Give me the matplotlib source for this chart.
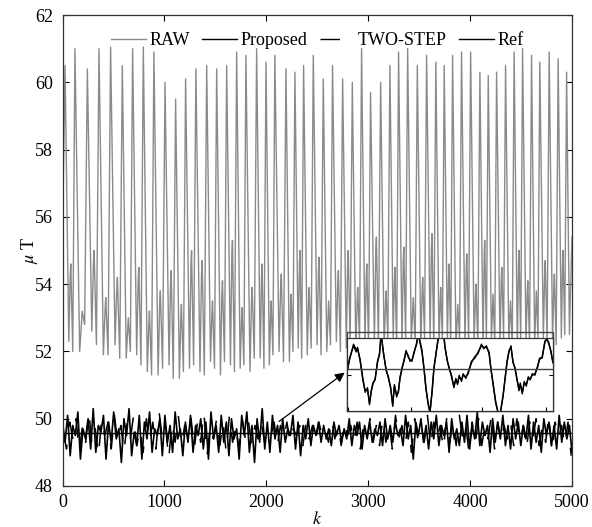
import numpy as np
import matplotlib
matplotlib.use("Agg")
import matplotlib.pyplot as plt
from matplotlib.patches import Rectangle
from matplotlib.lines import Line2D

plt.rcParams['font.family'] = ['Liberation Serif', 'DejaVu Serif']
plt.rcParams['mathtext.fontset'] = 'stix'

# ---------------- data ----------------
# RAW: one cycle = peak, first trough, mid bump, second trough
peak_k = [25, 122, 244, 358, 472, 587, 688, 793, 897, 1006,
          1110, 1208, 1309, 1415, 1513, 1611, 1709, 1800, 1905, 1997,
          2084, 2193, 2281, 2366, 2461, 2559, 2650, 2749, 2844, 2935,
          3023, 3122, 3213, 3298, 3387, 3482, 3573, 3664, 3746, 3828,
          3916, 4005, 4096, 4178, 4260, 4348, 4432, 4515, 4603, 4684,
          4776, 4864, 4947]
peak_val = [60.5, 61.0, 60.4, 61.0, 61.05, 60.5, 61.0, 61.05, 60.9, 60.0,
            59.5, 60.1, 60.4, 60.5, 60.4, 60.5, 60.9, 60.8, 61.0, 60.6,
            60.8, 60.4, 60.3, 60.5, 60.8, 60.1, 60.5, 60.1, 60.0, 61.0,
            59.7, 60.0, 60.5, 60.9, 61.0, 60.5, 60.8, 60.6, 60.5, 60.8,
            60.9, 60.9, 60.3, 60.2, 60.3, 60.5, 60.9, 61.0, 60.8, 60.6,
            60.9, 60.7, 60.3]
trough1_val = [52.3, 52.0, 52.6, 51.9, 52.2, 51.8, 51.9, 51.4, 51.3, 51.6,
               51.2, 51.5, 51.4, 51.7, 51.3, 51.6, 51.5, 51.4, 51.8, 51.6,
               52.0, 51.7, 52.1, 51.9, 52.2, 52.0, 52.3, 52.1, 52.0, 52.2,
               52.3, 52.1, 52.4, 52.2, 52.3, 52.1, 52.4, 52.2, 52.3, 52.1,
               52.2, 52.3, 52.1, 52.4, 52.2, 52.3, 52.1, 52.3, 52.2, 52.4,
               52.3, 52.4, 52.5]
bump_val = [54.6, 53.2, 55.0, 53.6, 54.2, 53.0, 54.5, 53.2, 53.8, 54.4,
            53.4, 55.0, 54.7, 53.5, 54.1, 55.3, 53.3, 53.9, 54.6, 53.5,
            54.3, 53.7, 55.0, 53.9, 54.8, 53.5, 54.4, 55.0, 53.9, 54.6,
            55.4, 53.8, 54.5, 55.1, 53.6, 54.2, 55.5, 53.9, 54.6, 53.4,
            54.9, 54.0, 55.3, 53.7, 54.5, 53.5, 55.0, 54.1, 53.8, 54.7,
            54.3, 55.0, 54.2]
trough2_val = [52.0, 52.8, 52.2, 51.9, 51.8, 52.0, 51.6, 51.3, 51.5, 51.2,
               51.4, 51.6, 51.3, 51.5, 51.7, 51.4, 51.6, 51.8, 51.5, 51.9,
               51.7, 52.0, 51.8, 52.1, 51.9, 52.2, 52.0, 52.2, 52.3, 52.1,
               52.2, 52.4, 52.1, 52.3, 52.2, 52.4, 52.1, 52.3, 52.2, 52.4,
               52.3, 52.1, 52.3, 52.2, 52.4, 52.1, 52.3, 52.2, 52.4, 52.3,
               52.2, 52.5, 52.4]
raw_start = 55.5
raw_end = 55.4

proposed_val = [
    49.9, 49.3, 50.1, 48.9, 49.8, 49.5, 50.2, 48.8, 49.7, 49.4, 50.0, 49.1, 50.3, 49.0, 49.8, 49.6, 50.1, 48.8, 49.9, 49.3,
    50.2, 49.4, 49.7, 48.7, 50.0, 49.5, 50.3, 48.9, 49.6, 49.2, 50.1, 48.8, 49.9, 49.4, 50.2, 49.0, 49.7, 49.5, 50.0, 48.9,
    50.1, 49.3, 49.8, 49.0, 50.2, 49.4, 49.7, 48.9, 49.9, 49.3, 50.1, 49.0, 49.8, 49.5, 50.0, 49.1, 49.9, 48.8, 50.2, 49.4,
    49.8, 49.0, 50.1, 49.3, 49.9, 48.9, 50.0, 49.4, 49.7, 48.8, 50.1, 49.5, 50.2, 49.0, 49.8, 48.7, 50.0, 49.3, 50.3, 49.1,
    49.9, 49.0, 50.1, 49.4, 49.8, 49.0, 50.0, 49.3, 49.7, 49.5, 50.1, 49.1, 49.9, 48.9, 49.8, 49.4, 50.0, 49.2, 49.8, 49.5,
    49.9, 49.3, 49.8, 49.4, 49.7, 49.2, 49.9, 49.5, 49.8, 49.3, 49.7, 49.4, 50.0, 49.2, 49.8, 49.5, 49.9, 49.1, 49.8, 49.4,
    49.9, 49.3, 49.7, 49.5, 49.9, 49.2, 50.0, 49.4, 49.8, 49.3, 49.9, 49.5, 49.7, 49.2, 50.1, 49.4, 49.8, 48.8, 49.9, 49.5,
    50.0, 49.3, 49.8, 49.1, 49.9, 49.4, 50.1, 49.2, 49.8, 49.5, 49.9, 49.0, 50.0, 49.4, 49.7, 49.2, 49.9, 49.3, 50.1, 49.1,
    49.8, 49.4, 50.2, 49.2, 49.9, 49.5, 49.8, 49.0, 50.0, 49.3, 49.9, 49.4, 50.1, 49.2, 49.8, 49.1, 50.0, 49.4, 49.9, 49.2,
    49.8, 49.4, 50.1, 49.1, 49.9, 49.3, 49.8, 49.0, 50.0, 49.5, 49.9, 49.2, 49.8, 49.1, 50.1, 49.3, 49.9, 49.4, 49.8, 49.0,
]
two_step_val = [
    49.6, 49.1, 49.9, 49.4, 50.0, 49.0, 49.8, 49.3, 50.2, 49.2, 49.7, 48.9, 50.0, 49.5, 49.9, 49.1, 50.1, 49.3, 49.8, 49.0,
    49.9, 49.4, 50.1, 49.2, 49.7, 49.0, 50.0, 49.3, 49.9, 49.1, 50.2, 49.4, 49.8, 48.8, 49.9, 49.3, 50.1, 49.2, 49.8, 49.4,
    50.0, 49.1, 49.9, 49.3, 50.2, 48.9, 49.8, 49.4, 50.0, 49.2, 49.9, 49.0, 50.1, 49.3, 49.8, 49.1, 50.0, 49.4, 49.9, 49.2,
    49.8, 49.4, 49.9, 49.3, 49.7, 49.5, 49.9, 49.2, 49.8, 49.4, 49.9, 49.3, 49.7, 49.5, 49.8, 49.2, 49.9, 49.4, 49.8, 49.3,
    49.9, 49.5, 49.7, 49.3, 50.0, 49.4, 49.8, 49.2, 49.9, 49.5, 49.8, 49.3, 49.9, 49.1, 49.8, 49.4, 50.0, 49.3, 49.8, 49.2,
    50.0, 49.3, 49.9, 49.1, 50.1, 49.4, 49.8, 49.2, 49.9, 49.0, 50.0, 49.4, 49.8, 49.3, 50.1, 49.2, 49.9, 49.4, 49.8, 49.1,
    50.0, 49.3, 49.9, 49.2, 50.1, 49.4, 49.8, 49.0, 49.9, 49.3, 50.0, 49.2, 49.8, 49.4, 50.1, 49.1, 49.9, 49.3, 49.8, 49.4,
    49.9, 49.2, 50.0, 49.3, 49.8, 49.1, 49.9, 49.4, 50.0, 49.2, 49.8, 49.3, 50.1, 49.0, 49.9, 49.4, 49.8, 49.2, 49.9, 48.9,
]
ref_val = 49.58

# zoomed window (inset), relative units, Ref = 0
inset_x = [0, 8, 20, 28, 32, 40, 48, 55, 62, 68, 73, 78, 85, 92, 98, 103, 110, 118, 125, 132,
           138, 143, 150, 155, 160, 166, 172, 178, 184, 190, 196, 202, 210, 215, 220, 226, 232, 238, 244, 250,
           256, 262, 268, 274, 282, 290, 295, 302, 308, 315, 322, 328, 333, 338, 345, 350, 358, 365, 375, 385,
           395, 405, 412, 420, 428, 434, 440, 448, 455, 462, 470, 476, 482, 488, 494, 500, 506, 512, 518, 522,
           528, 534, 540, 546, 552, 558, 566, 574, 580, 588, 596, 602, 608, 614, 620]
inset_prop = [-0.13, 0.3, 0.8, 0.62, 0.65, 0.3, -0.3, -0.75, -0.6, -1.15, -0.7, -0.5, -0.3, 0.2, 0.5, 1.15, 0.5, 0.0, -0.3, -0.6,
              -1.2, -0.5, -0.9, -0.7, -0.3, 0.0, 0.3, 0.55, 0.45, 0.25, 0.3, 0.5, 0.85, 1.1, 0.9, 0.6, 0.0, -0.6, -1.1, -1.4,
              -0.8, 0.0, 0.5, 0.9, 1.2, 1.3, 0.7, 0.3, 0.0, -0.2, -0.6, -0.3, -0.5, -0.2, -0.4, -0.15, -0.3, -0.1, 0.2, 0.4,
              0.5, 0.8, 0.65, 0.75, 0.5, 0.0, -0.5, -1.1, -1.4, -1.4, -0.9, -0.3, 0.2, 0.6, 0.7, 0.25, 0.0, -0.35, -0.65, -0.5,
              -0.8, -0.4, -0.55, -0.25, -0.35, -0.15, -0.2, 0.1, 0.3, 0.4, 0.85, 1.0, 0.8, 0.6, 0.2]
inset_two = [-0.1, 0.35, 0.75, 0.55, 0.7, 0.25, -0.35, -0.7, -0.65, -1.1, -0.75, -0.45, -0.35, 0.25, 0.45, 1.1, 0.55, -0.05, -0.25, -0.65,
             -1.15, -0.55, -0.85, -0.75, -0.25, 0.05, 0.25, 0.6, 0.4, 0.3, 0.25, 0.55, 0.8, 1.15, 0.85, 0.55, 0.05, -0.65, -1.05, -1.4,
             -0.75, 0.05, 0.45, 0.95, 1.15, 1.3, 0.75, 0.25, 0.05, -0.25, -0.55, -0.35, -0.45, -0.25, -0.35, -0.2, -0.25, -0.15, 0.25, 0.35,
             0.55, 0.75, 0.7, 0.7, 0.55, -0.05, -0.45, -1.05, -1.4, -1.4, -0.85, -0.35, 0.25, 0.55, 0.75, 0.2, 0.05, -0.3, -0.7, -0.45,
             -0.75, -0.45, -0.5, -0.3, -0.3, -0.2, -0.15, 0.05, 0.35, 0.35, 0.9, 0.95, 0.85, 0.55, 0.25]

# ---------------- build RAW polyline from cycle values ----------------
raw_k = [0]
raw_v = [raw_start]
for i, (p, pv, t1, b, t2) in enumerate(zip(peak_k, peak_val, trough1_val, bump_val, trough2_val)):
    nxt = peak_k[i + 1] if i + 1 < len(peak_k) else 5000 + 20
    d = nxt - p
    raw_k += [p, p + 0.38 * d, p + 0.52 * d, p + 0.58 * d, p + 0.78 * d]
    raw_v += [pv, t1, b - 0.4, b, t2]
raw_k = np.array(raw_k)
raw_v = np.array(raw_v)
keep = raw_k <= 5000
raw_k = np.append(raw_k[keep], 5000)
raw_v = np.append(raw_v[keep], raw_end)

prop_k = np.linspace(0, 5000, len(proposed_val))
two_k = np.linspace(8, 4992, len(two_step_val))

# ---------------- figure ----------------
fig = plt.figure(figsize=(5.92, 5.27), dpi=100)
ax = fig.add_axes([62.5 / 592, 1 - 486 / 527, (572 - 62.5) / 592, (486 - 15) / 527])

ax.plot(raw_k, raw_v, color='#8a8a8a', lw=1.0)
ax.plot(prop_k, proposed_val, color='black', lw=1.2)
ax.plot(two_k, two_step_val, color='black', lw=1.1, dashes=(14, 12))
ax.axhline(ref_val, color='black', lw=1.0)

ax.set_xlim(0, 5000)
ax.set_ylim(48, 62)
ax.set_xticks([0, 1000, 2000, 3000, 4000, 5000])
ax.set_yticks([48, 50, 52, 54, 56, 58, 60, 62])
ax.tick_params(direction='in', top=True, right=True, labelsize=13, length=4, width=0.8)
ax.tick_params(axis='y', pad=7)
ax.tick_params(axis='x', pad=6)
for s in ax.spines.values():
    s.set_linewidth(0.9)
    s.set_color('#333333')
ax.set_xlabel('$k$', fontsize=13, labelpad=0)
ax.set_ylabel(r'$\mu$ T', fontsize=13, labelpad=-4)

# zoom window
x0, x1 = 2791, 4812
ax.add_patch(Rectangle((x0, 50.23), x1 - x0, 52.58 - 50.23, fill=False,
                       edgecolor='#444444', lw=1.0, zorder=4))
axin = ax.inset_axes([x0, 50.23, x1 - x0, 52.40 - 50.23], transform=ax.transData)
axin.set_facecolor('white')
axin.plot(inset_x, inset_two, color='black', lw=1.0)
axin.plot(inset_x, inset_prop, color='black', lw=1.0)
axin.axhline(0, color='#444444', lw=1.0)
axin.set_xlim(0, 620)
axin.set_ylim(-1.35, 1.0)
axin.set_xticks([3, 193, 408, 598])
axin.set_yticks([-0.2])
axin.tick_params(direction='in', labelbottom=False, labelleft=False, right=True, length=3, width=0.8)
for s in axin.spines.values():
    s.set_linewidth(0.9)
    s.set_color('#333333')

ax.annotate('', xy=(x0, 51.42), xytext=(2104, 49.87),
            arrowprops=dict(arrowstyle='-|>', color='black', lw=0.9, mutation_scale=14))

handles = [Line2D([], [], color='#8a8a8a', lw=1.0),
           Line2D([], [], color='black', lw=1.0),
           Line2D([], [], color='black', lw=1.0, dashes=(14, 12)),
           Line2D([], [], color='black', lw=1.0)]
ax.legend(handles, ['RAW', 'Proposed', 'TWO-STEP', 'Ref'], loc='upper center',
          bbox_to_anchor=(0.5, 0.99), ncol=4, frameon=False, fontsize=13,
          handlelength=1.9, handletextpad=0.2, columnspacing=0.7, borderaxespad=0.3)

fig.savefig('out.png', dpi=100)
